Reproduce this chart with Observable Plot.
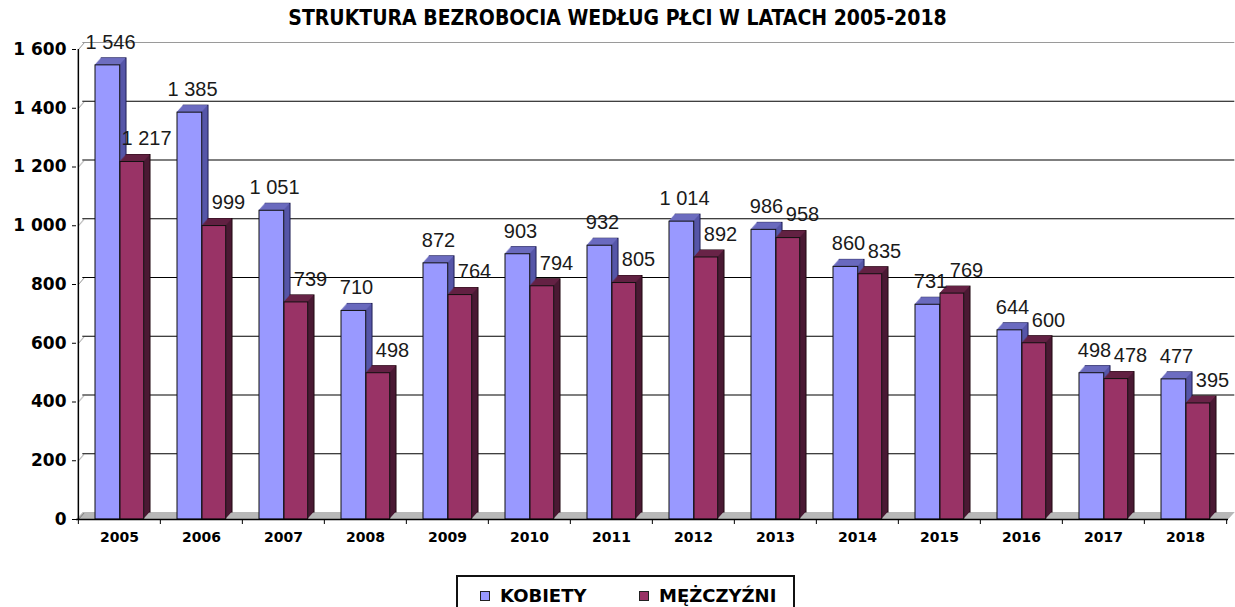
<!DOCTYPE html>
<html>
<head>
<meta charset="utf-8">
<script src="https://cdn.jsdelivr.net/npm/d3@7"></script>
<script src="https://cdn.jsdelivr.net/npm/@observablehq/plot@0.6"></script>
<style>
  html, body { margin: 0; padding: 0; background: #fff; }
  body { position: relative; width: 1235px; height: 607px; overflow: hidden; }
  #chart { position: absolute; left: 0; top: 0; }
  #title { position: absolute; left: 0; top: 6px; width: 1235px; text-align: center;
    font-family: "DejaVu Sans Condensed", "DejaVu Sans", sans-serif; font-stretch: condensed;
    font-weight: bold; font-size: 21px; color: #000; line-height: 24px; }
  #legend { position: absolute; left: 456px; top: 575px; width: 339px; height: 40px;
    border: 2px solid #111; box-sizing: border-box; background: #fff;
    font-family: "DejaVu Sans", sans-serif; font-weight: bold; font-size: 18px; color: #000; }
  .item { position: absolute; top: 9px; display: flex; align-items: center; line-height: 20px; }
  .sw { width: 8px; height: 8px; border: 1px solid #222; margin-right: 10px; }
</style>
</head>
<body>
<div id="chart"></div>
<div id="title">STRUKTURA BEZROBOCIA WEDŁUG PŁCI W LATACH 2005-2018</div>
<div id="legend"></div>
<script>
// ---- data ----
const years = ["2005","2006","2007","2008","2009","2010","2011","2012","2013","2014","2015","2016","2017","2018"];
const kobiety   = [1546, 1385, 1051, 710, 872, 903, 932, 1014, 986, 860, 731, 644, 498, 477];
const mezczyzni = [1217,  999,  739, 498, 764, 794, 805,  892, 958, 835, 769, 600, 478, 395];
const seriesNames = ["KOBIETY", "MĘŻCZYŹNI"];
const yTicks = [0, 200, 400, 600, 800, 1000, 1200, 1400, 1600];

// ---- styles ----
const W = 1235, H = 607;
const marginLeft = 76, marginRight = 7, marginTop = 49, marginBottom = 88;
const band = (W - marginLeft - marginRight) / years.length;
const DEPTH = 7, STEPX = 0.9;
const seriesStyle = [
  {front: "#9999FF", side: "#5656A8", top: "#7070C4", edge: "#1a1a50", insetLeft: 17, insetRight: band - 42, labelDx: -9},
  {front: "#993366", side: "#4B1A34", top: "#6A2448", edge: "#200810", insetLeft: 42, insetRight: band - 66, labelDx: 27}
];
const fmt = v => d3.format(",")(v).replace(/,/g, " ");

function barMarks(values, st) {
  const d = years.map((year, i) => ({year, value: values[i]}));
  const base = {x: "year", insetLeft: st.insetLeft, insetRight: st.insetRight};
  const m = [];
  for (let i = DEPTH; i >= 1; i--) {
    m.push(Plot.barY(d, {...base, y: "value", fill: st.side, dx: i * STEPX, dy: -i,
      stroke: i === DEPTH ? st.edge : "none", strokeWidth: 1}));
  }
  for (let i = 0; i < DEPTH; i++) {
    m.push(Plot.barY(d, {...base, y1: "value", y2: "value", insetTop: -1, fill: st.top, dx: i * STEPX, dy: -i}));
  }
  m.push(Plot.barY(d, {...base, y: "value", fill: st.front, stroke: "#111", strokeWidth: 1}));
  return m;
}

function labelMarks(values, st) {
  const d = years.map((year, i) => ({year, value: values[i]}));
  return Plot.text(d, {x: "year", y: "value", text: d => fmt(d.value), dx: st.labelDx, dy: -23,
    fontSize: 20, fontFamily: "Liberation Sans, Arial, sans-serif", fill: "#1a1a1a"});
}

const marks = [];
// floor
for (let i = 1; i <= DEPTH; i++) marks.push(Plot.ruleY([0], {dx: i * STEPX, dy: -i, stroke: "#b8b8b8"}));
// back-wall gridlines
marks.push(Plot.ruleY(yTicks.filter(t => t > 0 && t < 1600), {dx: DEPTH * STEPX, dy: -DEPTH, stroke: "#000", strokeWidth: 1.2}));
marks.push(Plot.ruleY([1600], {dx: DEPTH * STEPX, dy: -DEPTH, stroke: "#9a9a9a", strokeWidth: 1}));
// diagonal connectors from axis ticks to back wall
for (let i = 0; i < DEPTH; i++) {
  marks.push(Plot.tickY(yTicks, {x: () => years[0], y: d => d, insetRight: band - 1, dx: i * STEPX, dy: -i, stroke: "#666"}));
}
// bars
marks.push(...barMarks(kobiety, seriesStyle[0]));
marks.push(...barMarks(mezczyzni, seriesStyle[1]));
// front axes
marks.push(Plot.ruleY([0], {stroke: "#000", strokeWidth: 1.5}));
marks.push(Plot.ruleX([years[0]], {y1: 0, y2: 1600, dx: -band / 2, stroke: "#000", strokeWidth: 1.5}));
marks.push(Plot.axisY(yTicks, {tickSize: 4, tickFormat: () => "", label: null, stroke: "#000"}));
marks.push(Plot.axisX(years, {tickSize: 5, tickFormat: () => "", label: null, dx: -band / 2, stroke: "#000"}));
marks.push(Plot.axisX([years[years.length - 1]], {tickSize: 5, tickFormat: () => "", label: null, dx: band / 2, stroke: "#000"}));
// tick labels
marks.push(Plot.text(yTicks, {y: d => d, text: d => fmt(d), frameAnchor: "left", dx: -10, textAnchor: "end",
  fontSize: 17, fontWeight: "bold", fontFamily: "DejaVu Sans, sans-serif", fill: "#000"}));
marks.push(Plot.text(years, {x: d => d, text: d => d, frameAnchor: "bottom", dy: 22,
  fontSize: 14, fontWeight: "bold", fontFamily: "DejaVu Sans, sans-serif", fill: "#000"}));
// value labels
marks.push(labelMarks(kobiety, seriesStyle[0]));
marks.push(labelMarks(mezczyzni, seriesStyle[1]));

const chart = Plot.plot({
  width: W, height: H,
  marginLeft, marginRight, marginTop, marginBottom,
  style: {background: "transparent", overflow: "visible"},
  x: {type: "band", domain: years, padding: 0, axis: null},
  y: {domain: [0, 1600], axis: null},
  marks
});
document.getElementById("chart").appendChild(chart);

// legend
const legend = document.getElementById("legend");
const legendPos = [22, 181];
seriesNames.forEach((name, i) => {
  const item = document.createElement("div");
  item.className = "item";
  item.style.left = legendPos[i] + "px";
  const sw = document.createElement("div");
  sw.className = "sw";
  sw.style.background = seriesStyle[i].front;
  const t = document.createElement("span");
  t.textContent = name;
  item.appendChild(sw); item.appendChild(t);
  legend.appendChild(item);
});
</script>
</body>
</html>
